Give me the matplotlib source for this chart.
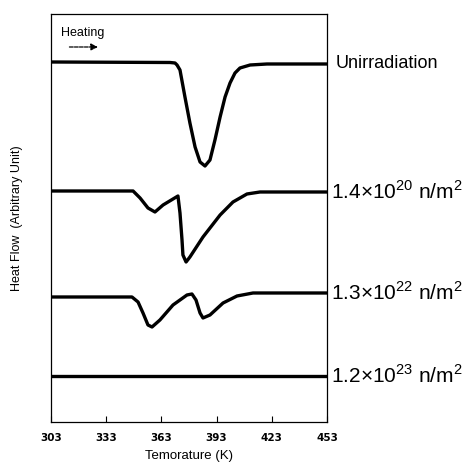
import matplotlib
matplotlib.use('Agg')
import matplotlib.pyplot as plt

# temperatures (K) and heat flow (arbitrary unit)
t_unirr = [303, 367.7, 370.4, 371.5, 373.1, 375.8, 378.5, 381.3, 384.0, 386.7,
           389.4, 392.1, 394.9, 397.6, 400.3, 403.0, 405.7, 411.2, 420.4, 453]
q_unirr = [36.0, 35.95, 35.9, 35.7, 35.2, 32.5, 29.9, 27.5, 26.0, 25.6,
           26.2, 28.2, 30.5, 32.5, 33.9, 34.9, 35.4, 35.7, 35.8, 35.8]

t_14e20 = [303, 347.6, 351.4, 355.7, 359.5, 363.9, 372.0, 373.1, 374.2, 374.7,
           376.4, 378.5, 385.6, 394.9, 401.9, 409.5, 416.6, 453]
q_14e20 = [23.1, 23.1, 22.4, 21.4, 21.0, 21.7, 22.6, 20.9, 18.2, 16.7,
           16.0, 16.5, 18.5, 20.7, 22.0, 22.8, 23.0, 23.0]

t_13e22 = [303, 347.0, 350.3, 353.0, 355.7, 357.9, 362.2, 369.3, 376.9, 379.6,
           381.8, 384.0, 385.6, 389.4, 396.5, 404.1, 412.8, 453]
q_13e22 = [12.5, 12.5, 12.0, 10.9, 9.7, 9.5, 10.2, 11.7, 12.7, 12.8,
           12.2, 10.9, 10.4, 10.7, 11.9, 12.6, 12.9, 12.9]

t_12e23 = [303, 453]
q_12e23 = [4.6, 4.6]

curves = [
    (t_unirr, q_unirr, 'Unirradiation', 13, 6),
    (t_14e20, q_14e20, '1.4×10$^{20}$ n/m$^2$', 15, 3),
    (t_13e22, q_13e22, '1.3×10$^{22}$ n/m$^2$', 15, 3),
    (t_12e23, q_12e23, '1.2×10$^{23}$ n/m$^2$', 15, 3),
]

xticks = [303, 333, 363, 393, 423, 453]

plt.rcParams['font.family'] = ['Liberation Sans', 'DejaVu Sans']
plt.rcParams['mathtext.fontset'] = 'custom'
plt.rcParams['mathtext.rm'] = 'Liberation Sans'

fig = plt.figure(figsize=(4.75, 4.65), dpi=100)
ax = fig.add_axes([0.1074, 0.0925, 0.581, 0.8774])

for t, q, label, fs, off in curves:
    ax.plot(t, q, color='black', lw=2.4, solid_joinstyle='round',
            solid_capstyle='butt')
    ax.annotate(label, xy=(1.0, q[-1]), xycoords=('axes fraction', 'data'),
                xytext=(off, 0), textcoords='offset points',
                va='center', ha='left', fontsize=fs, annotation_clip=False)

ax.set_xlim(303, 453)
ax.set_ylim(0, 40.8)
ax.set_xticks(xticks)
ax.set_xticklabels([str(x) for x in xticks], fontsize=7.5, fontweight='bold',
                   family='DejaVu Sans')
ax.tick_params(axis='x', direction='in', length=4, width=0.8, pad=8)
ax.set_yticks([])
for s in ax.spines.values():
    s.set_linewidth(0.9)

ax.set_xlabel('Temorature (K)', fontsize=9.5, labelpad=5)
ax.set_ylabel('Heat Flow  (Arbitrary Unit)', fontsize=9, labelpad=20)

ax.text(308.5, 38.9, 'Heating', fontsize=9, va='center', ha='left')
ax.annotate('', xy=(330, 37.5), xytext=(311.5, 37.5),
            arrowprops=dict(arrowstyle='-|>', color='black', lw=0.9,
                            linestyle=(0, (3, 1)), mutation_scale=10))

fig.savefig('out.png', dpi=100)
